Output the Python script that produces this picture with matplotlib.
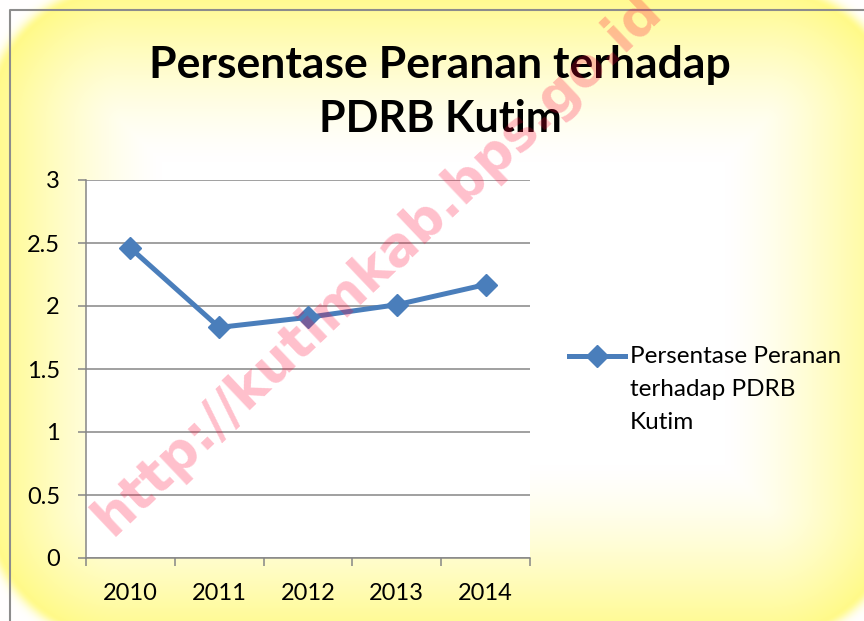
import numpy as np
import matplotlib
matplotlib.use("Agg")
import matplotlib.pyplot as plt

# data
tahun = ["2010", "2011", "2012", "2013", "2014"]
persen = [2.46, 1.83, 1.91, 2.01, 2.17]
yticks = [0, 0.5, 1, 1.5, 2, 2.5, 3]
judul = ["Persentase Peranan terhadap", "PDRB Kutim"]
label_seri = "Persentase Peranan\nterhadap PDRB\nKutim"
watermark = "http://kutimkab.bps.go.id"

W, H = 864, 621
plt.rcParams['font.family'] = ['Lato', 'DejaVu Sans']
abu = '#868686'

fig = plt.figure(figsize=(W / 100, H / 100), dpi=100)


def fx(px):
    return px / W


def fy(py):
    return 1 - py / H


# latar kuning bercahaya (rounded rect, soft edge)
yy, xx = np.mgrid[0:H, 0:W] + 0.5
x0, x1, y0, y1, r = -8, 895, -8, 635, 130
qx = np.abs(xx - (x0 + x1) / 2) - ((x1 - x0) / 2 - r)
qy = np.abs(yy - (y0 + y1) / 2) - ((y1 - y0) / 2 - r)
sd = np.hypot(np.maximum(qx, 0), np.maximum(qy, 0)) + np.minimum(np.maximum(qx, qy), 0) - r
f = np.where(sd < 0, np.clip(1 + sd / 170, 0, 1) ** 1.4, np.exp(-(sd / 9) ** 2))
kuning = np.array([1.0, 0.98, 0.54])
img = 1 - f[..., None] * (1 - kuning)

bg = fig.add_axes([0, 0, 1, 1], zorder=-1)
bg.imshow(img, extent=(0, W, H, 0), aspect='auto', interpolation='bilinear')
bg.plot([10, 10, W + 5], [H + 5, 10, 10], color='#8c8c8c', lw=1.5)
bg.set_xlim(0, W)
bg.set_ylim(H, 0)
bg.axis('off')

# grafik
ax = fig.add_axes([fx(86), fy(558), fx(530) - fx(86), fy(180) - fy(558)])
x = np.arange(len(tahun))
ax.plot(x, persen, color='#4A7EBB', lw=3.6, marker='D', ms=11,
        label=label_seri, zorder=3)
ax.set_xlim(-0.5, len(tahun) - 0.5)
ax.set_ylim(0, 3)
ax.set_yticks(yticks)
ax.set_yticklabels([f"{v:g}" for v in yticks])
ax.set_xticks(x)
ax.set_xticklabels(tahun)
ax.set_xticks(np.arange(len(tahun) + 1) - 0.5, minor=True)
ax.yaxis.grid(True, color=abu, lw=1.1)
ax.set_axisbelow(True)
for s in ['top', 'right']:
    ax.spines[s].set_visible(False)
for s in ['left', 'bottom']:
    ax.spines[s].set_color(abu)
    ax.spines[s].set_linewidth(1.1)
ax.tick_params(axis='y', length=5.8, width=1.1, color=abu, pad=13, labelsize=17)
ax.tick_params(axis='x', which='major', length=0, pad=18, labelsize=17)
ax.tick_params(axis='x', which='minor', length=5.8, width=1.1, color=abu)

leg = ax.legend(loc='upper left', bbox_to_anchor=(fx(569), fy(346)),
                bbox_transform=fig.transFigure, frameon=False, fontsize=17.5,
                handlelength=2.3, handletextpad=0.2, borderpad=0,
                borderaxespad=0, handleheight=1.0)
for kol in leg._legend_handle_box.get_children():
    for item in kol.get_children():
        item.align = 'top'
leg.get_texts()[0].set_linespacing(1.72)

# judul
fig.text(fx(440), fy(78), judul[0], ha='center', va='baseline',
         fontsize=32, fontweight='bold')
fig.text(fx(440), fy(132), judul[1], ha='center', va='baseline',
         fontsize=31, fontweight='bold')

# watermark
fig.text(fx(378), fy(264), watermark, rotation=43.5, rotation_mode='anchor',
         ha='center', va='center', fontsize=38, fontweight='bold',
         family='DejaVu Sans', color=(1, 0, 0.2), alpha=0.25, zorder=10)

fig.savefig('out.png', dpi=100)
